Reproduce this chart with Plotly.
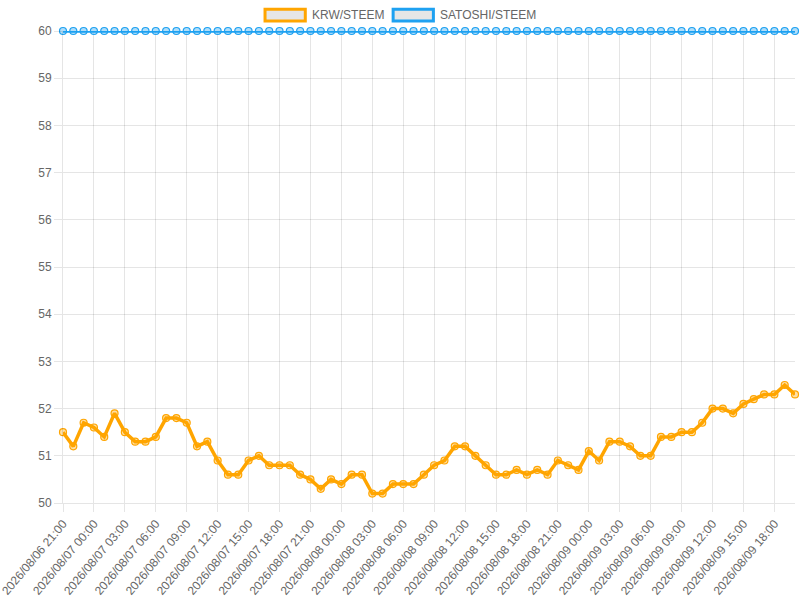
import pandas as pd
import plotly.graph_objects as go

# hourly samples, 2026/08/06 21:00 -> 2026/08/09 20:00
times = pd.date_range("2026-08-06 21:00", periods=72, freq="h")

krw_steem = [
    51.5, 51.2, 51.7, 51.6, 51.4, 51.9, 51.5, 51.3, 51.3, 51.4,
    51.8, 51.8, 51.7, 51.2, 51.3, 50.9, 50.6, 50.6, 50.9, 51.0,
    50.8, 50.8, 50.8, 50.6, 50.5, 50.3, 50.5, 50.4, 50.6, 50.6,
    50.2, 50.2, 50.4, 50.4, 50.4, 50.6, 50.8, 50.9, 51.2, 51.2,
    51.0, 50.8, 50.6, 50.6, 50.7, 50.6, 50.7, 50.6, 50.9, 50.8,
    50.7, 51.1, 50.9, 51.3, 51.3, 51.2, 51.0, 51.0, 51.4, 51.4,
    51.5, 51.5, 51.7, 52.0, 52.0, 51.9, 52.1, 52.2, 52.3, 52.3,
    52.5, 52.3,
]
satoshi_steem = [60] * 72

series_names = ["KRW/STEEM", "SATOSHI/STEEM"]
series_colors = ["#ffa500", "#1ea1f1"]
marker_fills = ["rgba(255,165,0,0.35)", "rgba(30,161,241,0.35)"]

FONT = "Liberation Sans, Arial, Helvetica, sans-serif"
GRID = "rgba(0,0,0,0.1)"

fig = go.Figure()
for name, vals, col, fillc in zip(series_names, [krw_steem, satoshi_steem],
                                  series_colors, marker_fills):
    fig.add_trace(go.Scatter(
        x=times, y=vals, name=name, mode="lines+markers",
        line=dict(color=col, width=3.5),
        marker=dict(size=7, color=fillc, line=dict(color=col, width=1.2)),
        cliponaxis=False, showlegend=False,
    ))

# chart.js style legend at the top
legend_x = [0.276, 0.451]
for name, col, lx in zip(series_names, series_colors, legend_x):
    fig.add_shape(type="rect", xref="paper", yref="paper",
                  x0=lx, x1=lx + 0.055, y0=1.021, y1=1.046,
                  fillcolor="#e6e6e6", line=dict(color=col, width=3))
    fig.add_annotation(x=lx + 0.061, y=1.034, xref="paper", yref="paper",
                       text=name, showarrow=False,
                       xanchor="left", yanchor="middle",
                       font=dict(family=FONT, size=12, color="#666"))

fig.update_layout(
    width=800, height=600,
    margin=dict(l=63, r=5, t=31, b=97),
    plot_bgcolor="white", paper_bgcolor="white",
    font=dict(family=FONT, size=12, color="#666"),
)
fig.update_xaxes(
    range=[times[0], times[-1]], automargin=False,
    tickmode="array", tickvals=times[::3],
    tickformat="%Y/%m/%d %H:%M", tickangle=-50,
    ticklabeloverflow="allow",
    showgrid=True, gridcolor=GRID,
    ticks="outside", ticklen=8, tickcolor=GRID,
    showline=True, linecolor=GRID, zeroline=False,
)
fig.update_yaxes(
    range=[50, 60], dtick=1, automargin=False,
    showgrid=True, gridcolor=GRID,
    ticks="outside", ticklen=8, tickcolor=GRID,
    showline=True, linecolor=GRID, zeroline=False,
)

# drop the browser's default body margin so the 800x600 figure fills the window
fig.write_html("out.html", config={"displayModeBar": False},
               post_script="document.body.style.margin = '0';")
